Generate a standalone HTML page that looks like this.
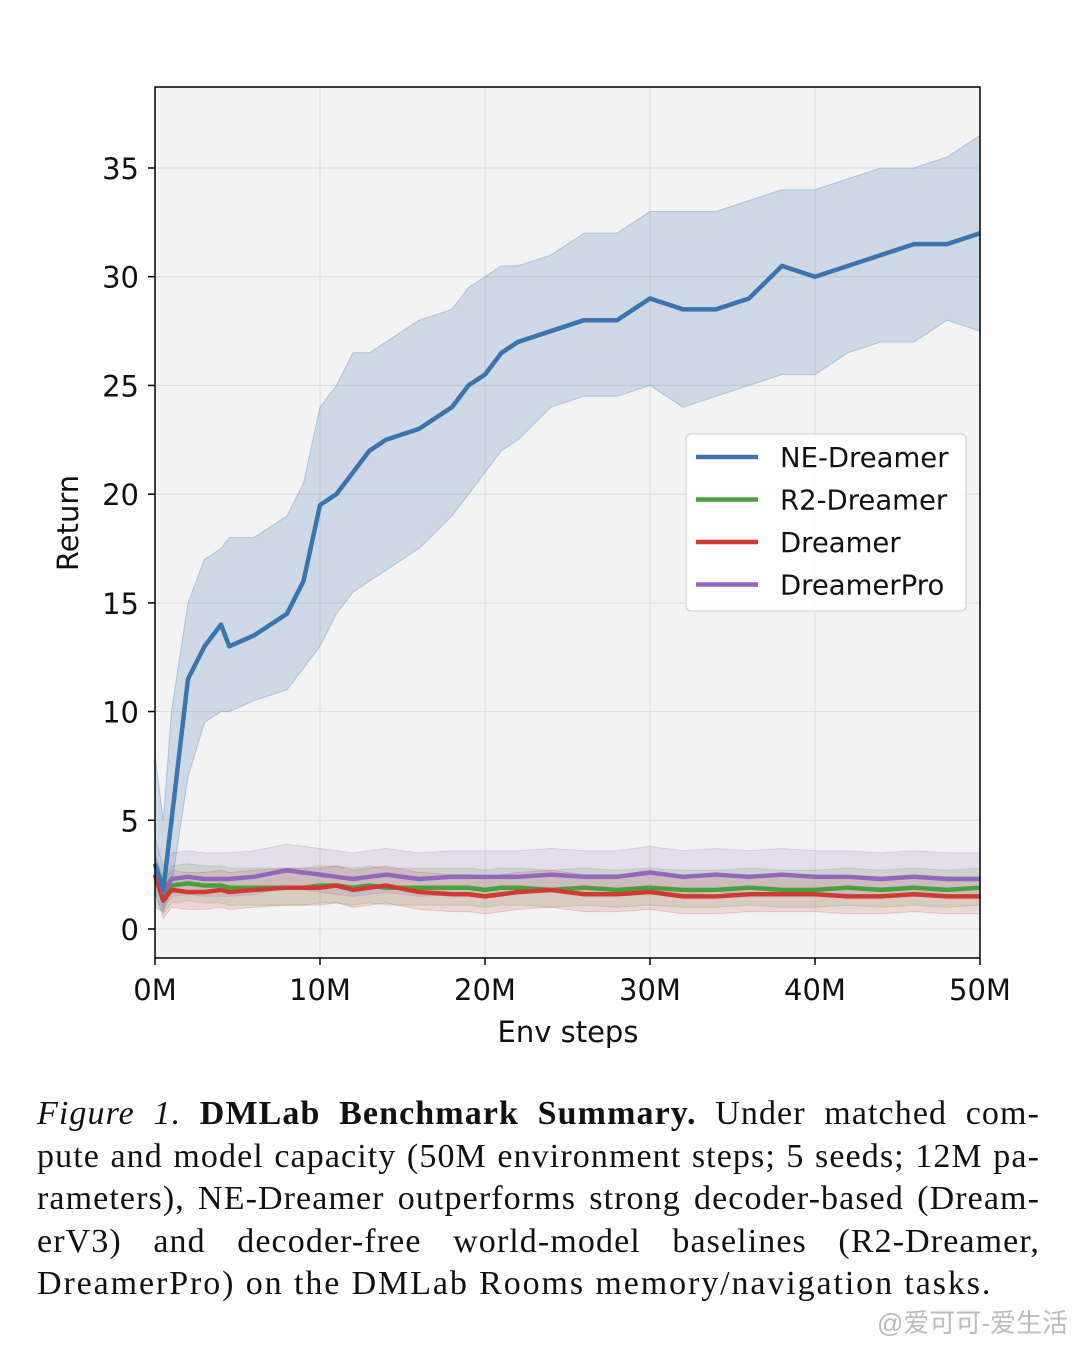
<!DOCTYPE html>
<html><head><meta charset="utf-8"><style>
body{margin:0;background:#fff;width:1080px;height:1347px;overflow:hidden;position:relative}
svg text{font-family:"DejaVu Sans","Liberation Sans",sans-serif}
#cap{position:absolute;left:37px;top:1093px;width:1003px;font-family:"Liberation Serif",serif;font-size:34px;line-height:42.5px;color:#111}
#cap .j{text-align:justify;text-align-last:justify;white-space:nowrap;letter-spacing:1.1px}
#wm{position:absolute;right:12px;top:1303px;font-family:"Liberation Sans","Noto Sans CJK SC",sans-serif;font-size:26px;color:#bbb}
</style></head><body>
<svg id="chart" width="1080" height="1080" style="position:absolute;left:0;top:0"></svg>
<div id="cap">
<div class="j"><i>Figure 1.</i> <b>DMLab Benchmark Summary.</b> Under matched com-</div>
<div class="j">pute and model capacity (50M environment steps; 5 seeds; 12M pa-</div>
<div class="j">rameters), NE-Dreamer outperforms strong decoder-based (Dream-</div>
<div class="j">erV3) and decoder-free world-model baselines (R2-Dreamer,</div>
<div style="letter-spacing:1.9px;white-space:nowrap">DreamerPro) on the DMLab Rooms memory/navigation tasks.</div>
</div>
<div id="wm">@爱可可-爱生活</div>
<script>
const steps=[0,0.5,1,2,3,4,4.5,6,8,9,10,11,12,13,14,16,18,19,20,21,22,24,26,28,30,32,34,36,38,40,42,44,46,48,50];
const neMean=[3,1.8,5,11.5,13,14,13,13.5,14.5,16,19.5,20,21,22,22.5,23,24,25,25.5,26.5,27,27.5,28,28,29,28.5,28.5,29,30.5,30,30.5,31,31.5,31.5,32];
const neUp=[8,5,10,15,17,17.5,18,18,19,20.5,24,25,26.5,26.5,27,28,28.5,29.5,30,30.5,30.5,31,32,32,33,33,33,33.5,34,34,34.5,35,35,35.5,36.5];
const neLo=[1,0.8,2,7,9.5,10,10,10.5,11,12,13,14.5,15.5,16,16.5,17.5,19,20,21,22,22.5,24,24.5,24.5,25,24,24.5,25,25.5,25.5,26.5,27,27,28,27.5];
const r2Mean=[2.5,1.5,2,2.1,2,2,1.9,1.9,1.9,1.9,2,2,1.9,2,1.9,1.9,1.9,1.9,1.8,1.9,1.9,1.8,1.9,1.8,1.9,1.8,1.8,1.9,1.8,1.8,1.9,1.8,1.9,1.8,1.9];
const drMean=[2.5,1.3,1.8,1.7,1.7,1.8,1.7,1.8,1.9,1.9,1.9,2,1.8,1.9,2,1.7,1.6,1.6,1.5,1.6,1.7,1.8,1.6,1.6,1.7,1.5,1.5,1.6,1.6,1.6,1.5,1.5,1.6,1.5,1.5];
const proMean=[3,1.7,2.3,2.4,2.3,2.3,2.3,2.4,2.7,2.6,2.5,2.4,2.3,2.4,2.5,2.3,2.4,2.4,2.4,2.4,2.4,2.5,2.4,2.4,2.6,2.4,2.5,2.4,2.5,2.4,2.4,2.3,2.4,2.3,2.3];
const yTicks=[0,5,10,15,20,25,30,35];
const xTicks=[0,10,20,30,40,50];
const L=155,R=980,T=87,B=958;
const xs=v=>L+v*16.5, ys=v=>929-v*21.743;
const svg=document.getElementById('chart');
const NS='http://www.w3.org/2000/svg';
function mk(t,a,p){const e=document.createElementNS(NS,t);for(const k in a)e.setAttribute(k,a[k]);(p||svg).appendChild(e);return e;}
const bg=mk('rect',{x:L,y:T,width:R-L,height:B-T,fill:'#f3f3f3'});


yTicks.forEach(v=>{const y=ys(v);
 const g=mk('line',{x1:L,x2:R,y1:y,y2:y,stroke:'#dcdcdc','stroke-width':1});
 
 
 mk('line',{x1:L-7,x2:L,y1:y,y2:y,stroke:'#000','stroke-width':1.5});
 const t=mk('text',{x:L-16,y:y+11,'font-size':29,'text-anchor':'end',fill:'#111'});t.textContent=v;
 
 });
xTicks.forEach(v=>{const x=xs(v);
 const g=mk('line',{x1:x,x2:x,y1:T,y2:B,stroke:'#dcdcdc','stroke-width':1});
 
 
 mk('line',{x1:x,x2:x,y1:B,y2:B+7,stroke:'#000','stroke-width':1.5});
 const t=mk('text',{x:x,y:1000,'font-size':29,'text-anchor':'middle',fill:'#111'});t.textContent=v+'M';
 
 });
function band(lo,hi,col,op,name){let d='M'+steps.map((s,i)=>xs(s)+','+ys(hi[i])).join('L');
 for(let i=steps.length-1;i>=0;i--)d+='L'+xs(steps[i])+','+ys(lo[i]);
 const p=mk('path',{d:d+'Z',fill:col,'fill-opacity':op,stroke:col,'stroke-opacity':op*1.5});
 
 }
function line(m,col,name){const p=mk('path',{d:'M'+steps.map((s,i)=>xs(s)+','+ys(m[i])).join('L'),fill:'none',stroke:col,'stroke-width':4.5,'stroke-linejoin':'round'});
 
 }
const off=(m,d)=>m.map(v=>v+d);
band(off(r2Mean,-0.8),off(r2Mean,0.9),'#4aa03f',0.15,'r2-dreamer-band');
band(off(drMean,-0.8),off(drMean,0.9),'#d03a33',0.15,'dreamer-band');
band(off(proMean,-0.8),off(proMean,1.2),'#9467bd',0.15,'dreamerpro-band');
band(neLo,neUp,'#3a75b0',0.2,'ne-dreamer-band');
line(r2Mean,'#4aa03f','r2-dreamer-line');
line(drMean,'#d03a33','dreamer-line');
line(proMean,'#9467bd','dreamerpro-line');
line(neMean,'#3a75b0','ne-dreamer-line');
mk('rect',{x:L,y:T,width:R-L,height:B-T,fill:'none',stroke:'#000','stroke-width':1.5});
const xl=mk('text',{x:568,y:1042,'font-size':29,'text-anchor':'middle',fill:'#111'});xl.textContent='Env steps';


const yl=mk('text',{x:0,y:0,'font-size':29,'text-anchor':'middle',fill:'#111',transform:'translate(78,523) rotate(-90)'});yl.textContent='Return';


const lg=mk('g',{});


mk('rect',{x:686,y:434,width:280,height:177,rx:5,fill:'#fff','fill-opacity':0.85,stroke:'#ccc'},lg);
const names=['NE-Dreamer','R2-Dreamer','Dreamer','DreamerPro'],cols=['#3a75b0','#4aa03f','#d03a33','#9467bd'];
names.forEach((n,i)=>{const y=457+i*42.5;
 mk('line',{x1:696,x2:758,y1:y,y2:y,stroke:cols[i],'stroke-width':4.5},lg);
 const t=mk('text',{x:780,y:y+10,'font-size':27.5,fill:'#111'},lg);t.textContent=n;
 
 });
</script>
</body></html>
